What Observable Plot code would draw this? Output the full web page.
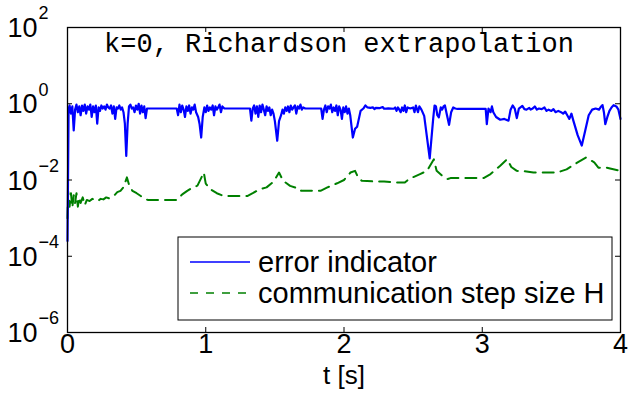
<!DOCTYPE html>
<html>
<head>
<meta charset="utf-8">
<script src="https://cdn.jsdelivr.net/npm/d3@7"></script>
<script src="https://cdn.jsdelivr.net/npm/@observablehq/plot@0.6"></script>
<style>
  html, body { margin: 0; padding: 0; background: #fff; }
  #chart { width: 629px; height: 406px; }
  svg { font-family: "Liberation Sans", Arial, sans-serif; }
</style>
</head>
<body>
<div id="chart"></div>
<script>
// ---- data ----
const title = "k=0, Richardson extrapolation";
const xTicks = [0, 1, 2, 3, 4];
const yTicks = [1e2, 1e0, 1e-2, 1e-4, 1e-6];
const yTickExponents = ["2", "0", "\u22122", "\u22124", "\u22126"];
const xLabel = "t [s]";
const seriesNames = ["error indicator", "communication step size H"];

const tErr = [
  0, 0.008, 0.015, 0.025, 0.035, 0.045, 0.055, 0.065, 0.075, 0.085, 0.095, 0.105, 0.115, 0.125, 0.135, 0.145,
  0.155, 0.165, 0.175, 0.185, 0.195, 0.205, 0.215, 0.225, 0.235, 0.245, 0.255, 0.265, 0.275, 0.285, 0.295,
  0.305, 0.315, 0.325, 0.335, 0.345, 0.355, 0.365, 0.375, 0.385, 0.395, 0.405, 0.415, 0.425, 0.435, 0.445,
  0.455, 0.465, 0.475, 0.485, 0.495, 0.505, 0.515, 0.525, 0.535, 0.545, 0.555, 0.565, 0.575, 0.79, 0.80,
  0.81, 0.82, 0.83, 0.84, 0.85, 0.86, 0.87, 0.88, 0.89, 0.90, 0.91, 0.92, 0.93, 0.945, 0.955, 0.967, 0.978,
  0.99, 1.0, 1.01, 1.02, 1.03, 1.04, 1.05, 1.06, 1.07, 1.08, 1.09, 1.10, 1.11, 1.12, 1.135, 1.32, 1.33,
  1.34, 1.35, 1.36, 1.37, 1.38, 1.39, 1.40, 1.41, 1.42, 1.43, 1.44, 1.45, 1.46, 1.47, 1.48, 1.49, 1.50,
  1.517, 1.53, 1.545, 1.555, 1.565, 1.575, 1.585, 1.595, 1.605, 1.615, 1.625, 1.635, 1.645, 1.655, 1.665,
  1.675, 1.685, 1.695, 1.705, 1.72, 1.835, 1.845, 1.855, 1.865, 1.875, 1.885, 1.895, 1.905, 1.915, 1.925,
  1.935, 1.945, 1.955, 1.965, 1.975, 1.985, 1.995, 2.005, 2.015, 2.025, 2.035, 2.045, 2.064, 2.08, 2.095,
  2.12, 2.14, 2.155, 2.17, 2.19, 2.21, 2.22, 2.23, 2.26, 2.28, 2.29, 2.32, 2.36, 2.37, 2.38, 2.39, 2.40,
  2.41, 2.42, 2.43, 2.44, 2.45, 2.46, 2.48, 2.50, 2.51, 2.52, 2.535, 2.545, 2.56, 2.58, 2.62, 2.645, 2.655,
  2.665, 2.675, 2.686, 2.70, 2.71, 2.72, 2.73, 2.745, 2.76, 2.775, 2.79, 2.805, 2.82, 3.025, 3.033, 3.045,
  3.06, 3.07, 3.08, 3.10, 3.13, 3.16, 3.19, 3.205, 3.22, 3.235, 3.25, 3.265, 3.29, 3.305, 3.32, 3.34, 3.35,
  3.365, 3.38, 3.395, 3.41, 3.43, 3.45, 3.465, 3.48, 3.50, 3.515, 3.53, 3.55, 3.57, 3.585, 3.60, 3.615,
  3.63, 3.645, 3.66, 3.69, 3.72, 3.745, 3.77, 3.795, 3.82, 3.845, 3.86, 3.87, 3.88, 3.89, 3.905, 3.92,
  3.935, 3.95, 3.97, 3.985, 4.0
];
const errIndicator = [
  0.00025, 0.75, 0.9, 0.55, 0.85, 0.2, 0.7, 0.95, 0.6, 0.85, 0.5, 0.9, 0.65, 0.95, 0.55, 0.85,
  0.7, 0.95, 0.45, 0.85, 0.6, 0.9, 0.3, 0.8, 0.65, 0.9, 0.75, 0.85, 0.7, 0.95, 0.8,
  0.75, 0.9, 0.55, 0.85, 0.4, 0.8, 0.75, 0.9, 0.7, 0.8, 0.6, 0.3, 0.043, 0.3, 0.85,
  0.95, 0.75, 0.8, 0.6, 0.9, 0.7, 1.0, 0.55, 0.9, 0.6, 0.85, 0.42, 0.75, 0.75, 0.5,
  0.95, 0.6, 0.9, 0.7, 0.45, 0.85, 0.65, 0.9, 0.55, 0.8, 0.7, 0.95, 0.6, 0.45, 0.3, 0.13, 0.45,
  0.8, 0.6, 0.9, 0.65, 0.8, 0.7, 0.9, 0.5, 0.85, 0.7, 0.8, 0.95, 0.6, 0.85, 0.75, 0.75, 0.36,
  0.75, 0.9, 0.55, 0.85, 0.45, 0.9, 0.6, 0.95, 0.7, 0.5, 0.85, 0.65, 0.8, 0.5, 0.7, 0.55, 0.35,
  0.107, 0.35, 0.5, 0.7, 0.55, 0.8, 0.65, 0.85, 0.6, 0.9, 0.7, 0.8, 0.9, 0.55, 0.85,
  0.75, 0.95, 0.7, 0.8, 0.75, 0.75, 0.4, 0.7, 0.9, 0.6, 0.85, 0.75, 0.95, 0.6, 0.8,
  0.65, 0.9, 0.5, 0.85, 0.7, 0.4, 0.8, 0.6, 0.85, 0.55, 0.75, 0.5, 0.13, 0.22, 0.25,
  0.65, 0.75, 0.9, 0.8, 0.78, 0.8, 0.72, 0.78, 0.77, 0.82, 0.74, 0.76, 0.74, 0.8, 0.65, 0.8, 0.7,
  0.6, 0.8, 0.65, 0.9, 0.6, 0.8, 0.75, 0.8, 0.6, 0.9, 0.6, 0.85, 0.7, 0.48, 0.037, 0.4, 0.9,
  0.85, 0.5, 0.44, 0.8, 0.7, 0.85, 0.9, 0.5, 0.28, 0.6, 0.8, 0.75, 0.73, 0.73, 0.29, 0.75,
  0.6, 0.85, 0.6, 0.45, 0.38, 0.4, 0.36, 0.7, 0.9, 0.75, 0.42, 0.75, 0.88, 0.72, 0.7, 0.78, 0.7,
  0.75, 0.85, 0.7, 0.75, 0.72, 0.8, 0.65, 0.7, 0.65, 0.72, 0.6, 0.65, 0.6, 0.55, 0.62, 0.5,
  0.4, 0.55, 0.35, 0.15, 0.08, 0.2, 0.5, 0.7, 0.75, 0.7, 0.85, 0.92, 0.6, 0.29, 0.45, 0.65,
  0.8, 0.92, 0.85, 0.7, 0.4
];

const tStep = [
  0, 0.005, 0.015, 0.025, 0.035, 0.045, 0.055, 0.065, 0.075, 0.085, 0.095, 0.11, 0.125, 0.14, 0.16, 0.18,
  0.2, 0.22, 0.24, 0.26, 0.28, 0.3, 0.32, 0.34, 0.36, 0.383, 0.405, 0.43, 0.45, 0.47, 0.5, 0.53, 0.56,
  0.58, 0.79, 0.83, 0.866, 0.9, 0.94, 0.986, 1.0, 1.034, 1.08, 1.13, 1.30, 1.34, 1.37, 1.41, 1.44, 1.49,
  1.53, 1.56, 1.61, 1.685, 1.69, 1.83, 1.88, 1.95, 2.0, 2.047, 2.08, 2.105, 2.13, 2.21, 2.29, 2.37, 2.44,
  2.47, 2.55, 2.60, 2.65, 2.67, 2.72, 2.75, 2.77, 3.01, 3.06, 3.13, 3.18, 3.21, 3.25, 3.30, 3.37, 3.44,
  3.54, 3.61, 3.69, 3.75, 3.81, 3.84, 3.90, 3.98, 4.0
];
const stepSize = [
  0.001, 0.005, 0.002, 0.0045, 0.0019, 0.004, 0.0025, 0.0045, 0.002, 0.0035, 0.0025, 0.0035, 0.0022, 0.003, 0.0028, 0.0032,
  0.003, 0.0028, 0.0032, 0.0031, 0.0035, 0.0033, 0.0036, 0.004, 0.0048, 0.0052, 0.0065, 0.0117, 0.0065, 0.0052, 0.0045, 0.0038, 0.0032,
  0.003, 0.003, 0.0042, 0.0052, 0.0062, 0.0071, 0.0157, 0.008, 0.0057, 0.0045, 0.0038, 0.0038, 0.0045, 0.0052, 0.006, 0.0064, 0.009,
  0.0157, 0.0095, 0.007, 0.0057, 0.0052, 0.0052, 0.0064, 0.0082, 0.01, 0.0157, 0.0174, 0.011, 0.0095, 0.0092, 0.0092, 0.0086, 0.0086,
  0.0106, 0.0143, 0.0174, 0.035, 0.0174, 0.012, 0.0106, 0.0112, 0.0112, 0.0143, 0.0237, 0.035, 0.022, 0.0174, 0.017, 0.0157, 0.0157,
  0.0157, 0.019, 0.029, 0.039, 0.029, 0.021, 0.021, 0.018, 0.0175
];

// ---- chart ----
const W = 629, H = 406;
const mL = 67, mR = 9, mT = 27, mB = 74;
const innerW = W - mL - mR, innerH = H - mT - mB;
const tickLen = 5;
const sans = "'Liberation Sans', Arial, Helvetica, sans-serif";

const errData = tErr.map((t, i) => ({t, v: errIndicator[i]}));
const stepData = tStep.map((t, i) => ({t, v: stepSize[i]}));

const chart = Plot.plot({
  width: W, height: H,
  marginLeft: mL, marginRight: mR, marginTop: mT, marginBottom: mB,
  style: {fontFamily: sans, background: "white", overflow: "visible"},
  x: {domain: [0, 4], axis: null},
  y: {type: "log", domain: [1e-6, 1e2], axis: null},
  marks: [
    Plot.line(stepData, {x: "t", y: "v", stroke: "#008000", strokeWidth: 2, strokeDasharray: "11,7"}),
    Plot.line(errData, {x: "t", y: "v", stroke: "#0000ff", strokeWidth: 2.2}),
    // inward ticks on all four sides
    Plot.tickY(yTicks, {y: d => d, stroke: "black", insetRight: innerW - tickLen}),
    Plot.tickY(yTicks, {y: d => d, stroke: "black", insetLeft: innerW - tickLen}),
    Plot.tickX(xTicks, {x: d => d, stroke: "black", insetTop: innerH - tickLen}),
    Plot.tickX(xTicks, {x: d => d, stroke: "black", insetBottom: innerH - tickLen}),
    Plot.frame({stroke: "black", strokeWidth: 1.3}),
    // y tick labels 10^k
    Plot.text(yTicks, {y: d => d, text: () => "10", frameAnchor: "left", textAnchor: "end", dx: -30, dy: 1, fontSize: 27, fill: "black"}),
    Plot.text(yTicks, {y: d => d, text: (d, i) => yTickExponents[i], frameAnchor: "left", textAnchor: "start", dx: -29, dy: -14, fontSize: 18, fill: "black"}),
    // x tick labels
    Plot.text(xTicks, {x: d => d, text: d => String(d), frameAnchor: "bottom", dy: 20, fontSize: 27, fill: "black"}),
    Plot.text([xLabel], {frameAnchor: "bottom", dy: 51, fontSize: 26, fill: "black"}),
    // title inside the box
    Plot.text([title], {frameAnchor: "top", dy: 5, dx: -5, fontSize: 27, fontFamily: "'Liberation Mono', 'Courier New', monospace", fill: "black"})
  ]
});

// legend box
const svg = d3.select(chart);
const lg = svg.append("g").attr("text-anchor", "start");
lg.append("rect").attr("x", 178).attr("y", 237).attr("width", 434).attr("height", 83)
  .attr("fill", "white").attr("stroke", "black").attr("stroke-width", 1);
const rows = [
  {y: 262, color: "#0000ff", dash: null},
  {y: 293, color: "#008000", dash: "8,8"}
];
rows.forEach((r, i) => {
  lg.append("line").attr("x1", 190).attr("x2", 250).attr("y1", r.y).attr("y2", r.y)
    .attr("stroke", r.color).attr("stroke-width", 1.5).attr("stroke-dasharray", r.dash);
  lg.append("text").attr("x", 258).attr("y", r.y).attr("dy", "0.35em")
    .attr("text-anchor", "start")
    .attr("font-size", 29).attr("font-family", sans).attr("fill", "black")
    .text(seriesNames[i]);
});

document.getElementById("chart").appendChild(chart);
</script>
</body>
</html>
